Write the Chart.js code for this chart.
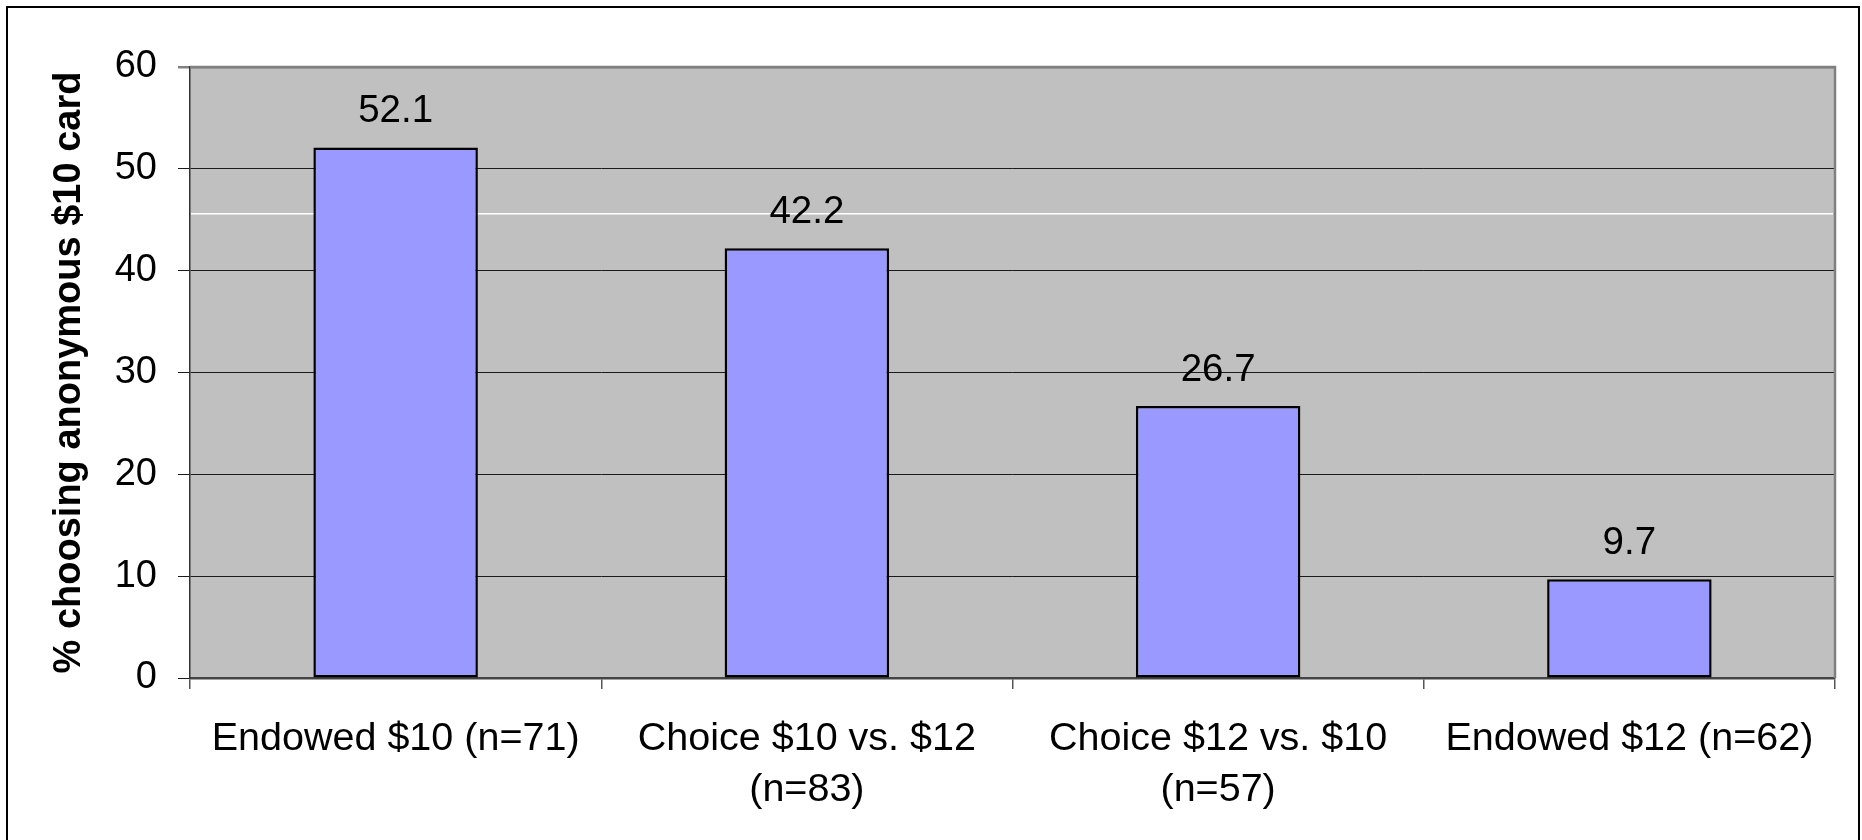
<!DOCTYPE html>
<html>
<head>
<meta charset="utf-8">
<script src="https://cdn.jsdelivr.net/npm/chart.js@4"></script>
<style>
  html, body { margin: 0; padding: 0; background: #fff; }
  canvas { display: block; }
</style>
</head>
<body>
<canvas id="cardChart" width="1862" height="840"></canvas>
<script>
const categories = [
    'Endowed $10 (n=71)',
    ['Choice $10 vs. $12', '(n=83)'],
    ['Choice $12 vs. $10', '(n=57)'],
    'Endowed $12 (n=62)'
];
const percentChoosing = [52.1, 42.2, 26.7, 9.7];
const yTicks = [0, 10, 20, 30, 40, 50, 60];
const oddWhiteLine = 45.6;

const FONT = '"Liberation Sans", Arial, sans-serif';

// grey plot area, right/top frame and the stray white rule
const plotBackground = {
    id: 'plotBackground',
    beforeDraw(chart) {
        const { ctx, chartArea: a } = chart;
        ctx.save();
        ctx.fillStyle = '#C0C0C0';
        ctx.fillRect(a.left, a.top, a.right - a.left, a.bottom - a.top);
        ctx.restore();
    },
    beforeDatasetsDraw(chart) {
        const { ctx, chartArea: a, scales } = chart;
        const y = scales.y.getPixelForValue(oddWhiteLine);
        ctx.save();
        ctx.strokeStyle = '#FFFFFF';
        ctx.lineWidth = 1.5;
        ctx.beginPath();
        ctx.moveTo(a.left + 1, y);
        ctx.lineTo(a.right - 2, y);
        ctx.stroke();
        ctx.strokeStyle = '#808080';
        ctx.lineWidth = 2.5;
        ctx.beginPath();
        ctx.moveTo(a.left, a.top);
        ctx.lineTo(a.right, a.top);
        ctx.lineTo(a.right, a.bottom);
        ctx.stroke();
        ctx.restore();
    },
    afterDraw(chart) {
        const { ctx } = chart;
        ctx.save();
        ctx.strokeStyle = '#000';
        ctx.lineWidth = 2;
        ctx.strokeRect(7, 7, 1852, 900);
        ctx.restore();
    }
};

// value labels above each bar
const valueLabels = {
    id: 'valueLabels',
    afterDatasetsDraw(chart) {
        const { ctx } = chart;
        const meta = chart.getDatasetMeta(0);
        ctx.save();
        ctx.font = '38.5px ' + FONT;
        ctx.fillStyle = '#000';
        ctx.textAlign = 'center';
        ctx.textBaseline = 'alphabetic';
        meta.data.forEach((bar, i) => {
            ctx.fillText(percentChoosing[i].toFixed(1), bar.x, bar.y - 25);
        });
        ctx.restore();
    }
};

new Chart(document.getElementById('cardChart'), {
    type: 'bar',
    data: {
        labels: categories,
        datasets: [{
            data: percentChoosing,
            backgroundColor: '#9999FF',
            borderColor: '#000000',
            borderWidth: 2.5,
            borderSkipped: false,
            categoryPercentage: 1,
            barPercentage: 0.4
        }]
    },
    options: {
        responsive: false,
        animation: false,
        layout: { padding: { top: 67, right: 27, left: 0, bottom: 0 } },
        plugins: {
            legend: { display: false },
            tooltip: { enabled: false }
        },
        scales: {
            x: {
                grid: {
                    offset: true,
                    drawOnChartArea: false,
                    tickLength: 11,
                    color: '#555',
                    lineWidth: 1.5
                },
                border: { color: '#444', width: 2.5 },
                ticks: {
                    color: '#000',
                    padding: 24,
                    maxRotation: 0,
                    autoSkip: false,
                    font: { family: FONT, size: 39.5, lineHeight: 1.3 }
                },
                afterFit(scale) { scale.height = 162; }
            },
            y: {
                min: 0,
                max: 60,
                afterBuildTicks(scale) {
                    scale.ticks = yTicks.map(v => ({ value: v }));
                },
                grid: {
                    tickLength: 12,
                    color: ctx => ctx.tick && ctx.tick.value === 60 ? '#808080' : '#1a1a1a',
                    lineWidth: ctx => ctx.tick && ctx.tick.value === 60 ? 2.5 : 1
                },
                border: { color: '#333', width: 1.5 },
                ticks: {
                    color: '#000',
                    padding: 21,
                    font: { family: FONT, size: 38 }
                },
                title: {
                    display: true,
                    text: '% choosing anonymous $10 card',
                    color: '#000',
                    padding: { top: 47, bottom: 0 },
                    font: { family: FONT, size: 38, weight: 'bold' }
                },
                afterFit(scale) { scale.width = 190; }
            }
        }
    },
    plugins: [plotBackground, valueLabels]
});
</script>
</body>
</html>
